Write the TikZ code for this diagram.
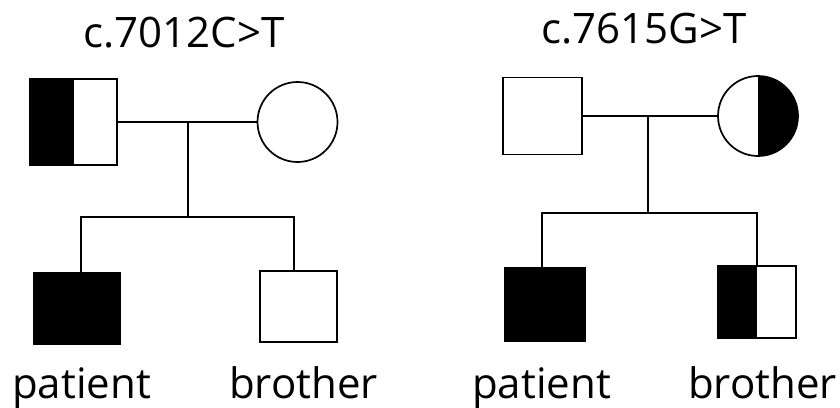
\documentclass[tikz,border=0pt]{standalone}
\usepackage{fontspec}
\setmainfont{Open Sans}
\begin{document}
\begin{tikzpicture}[x=1pt,y=-1pt,
  lw/.style={line width=1.7pt},
  male/.style={draw,rectangle,lw,inner sep=0pt},
  female/.style={draw,circle,lw,inner sep=0pt,minimum size=80pt},
  affected/.style={fill=black},
  halfleft/.style={path picture={\fill[black] (path picture bounding box.south west) rectangle (path picture bounding box.north);}},
  halfright/.style={path picture={\fill[black] (path picture bounding box.north) rectangle (path picture bounding box.south east);}},
  conn/.style={lw},
  lbl/.style={anchor=base,font=\fontsize{42pt}{48pt}\selectfont,inner sep=0pt}
]
\useasboundingbox (0,0) rectangle (840,407);
\fill[white] (0,0) rectangle (840,407);

% ---- left pedigree ----
\node[lbl] (t1) at (184,47) {c.7012C>T};
\node[male,halfleft,minimum width=87pt,minimum height=86pt] (f1) at (73.5,122) {};
\node[female] (m1) at (297.5,122) {};
\coordinate (c1) at (188,122);
\coordinate (s1) at (188,217);
\coordinate (s1L) at (81,217);
\coordinate (s1R) at (294,217);
\node[male,affected,minimum width=86pt,minimum height=71pt] (p1) at (77,308.5) {};
\node[male,minimum width=77pt,minimum height=71pt] (b1) at (298.5,306.5) {};
\draw[conn] (f1.east) -- (m1.west);
\draw[conn] (c1) -- (s1);
\draw[conn] (s1L |- p1.north) -- (s1L) -- (s1R) -- (s1R |- b1.north);
\node[lbl] (l1) at (81.5,398) {patient};
\node[lbl] (l2) at (303.5,398) {brother};

% ---- right pedigree ----
\node[lbl] (t2) at (644,43) {c.7615G>T};
\node[male,minimum width=79pt,minimum height=77pt] (f2) at (542.5,116) {};
\node[female,halfright] (m2) at (758,116) {};
\coordinate (c2) at (648,116);
\coordinate (s2) at (648,213);
\coordinate (s2L) at (542,213);
\node[male,affected,minimum width=80pt,minimum height=73pt] (p2) at (545,304.5) {};
\node[male,halfleft,minimum width=78pt,minimum height=72pt] (b2) at (757,302) {};
\draw[conn] (f2.east) -- (m2.west);
\draw[conn] (c2) -- (s2);
\draw[conn] (s2L |- p2.north) -- (s2L) -- (s2 -| b2.north) -- (b2.north);
\node[lbl] (l3) at (541.5,398) {patient};
\node[lbl] (l4) at (762.5,398) {brother};
\end{tikzpicture}
\end{document}
